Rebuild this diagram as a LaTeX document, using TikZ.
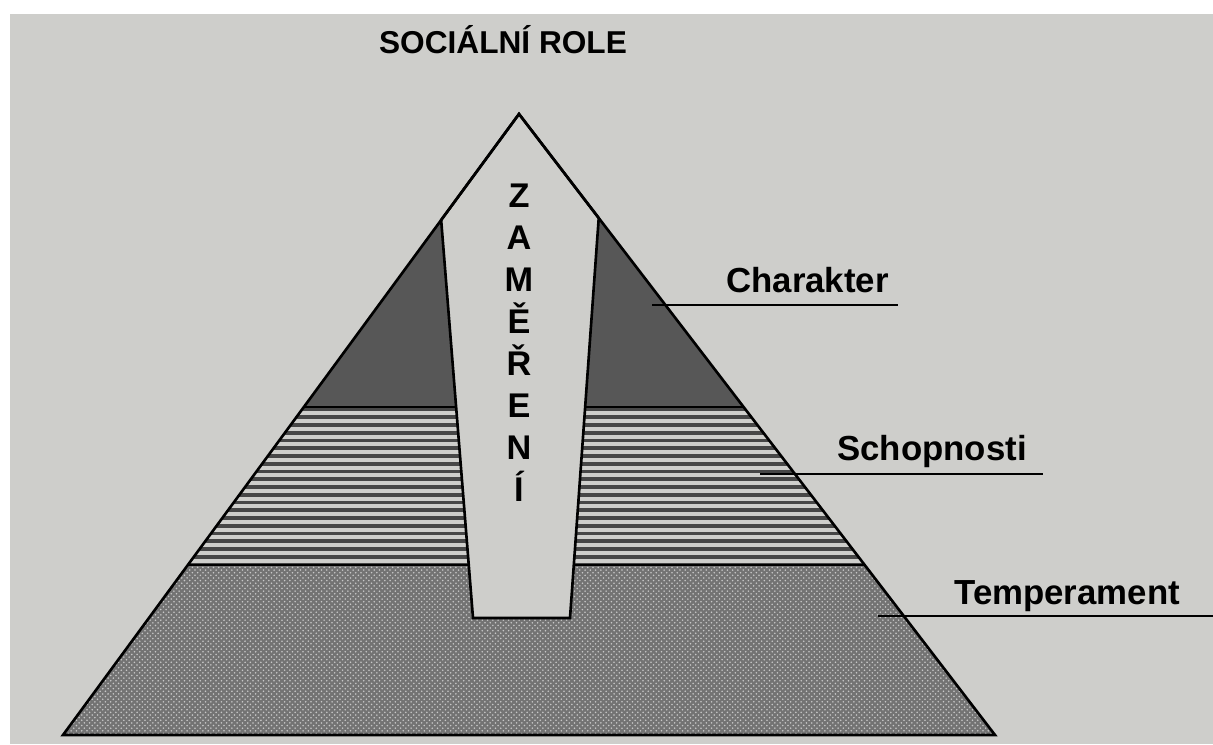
\documentclass[tikz,border=0pt]{standalone}
\usepackage{fontspec}
\setmainfont{Liberation Sans}
\usetikzlibrary{positioning}
\usetikzlibrary{calc}
\usetikzlibrary{patterns}
\definecolor{paper}{RGB}{206,206,203}
\tikzset{lbl/.style={anchor=base west, inner sep=0pt, font=\bfseries\fontsize{19.8}{22}\selectfont}}
\tikzset{ltr/.style={anchor=base, inner sep=0pt, font=\bfseries\fontsize{19.5}{22}\selectfont}}
\tikzset{ttl/.style={anchor=base, inner sep=0pt, font=\bfseries\fontsize{18}{20}\selectfont}}
\tikzset{edge/.style={line width=1.5pt, line join=miter}}
\tikzset{lead/.style={line width=1.1pt}}
\tikzset{hatch/.style={line width=2.1pt, black!72}}

\begin{document}
\begin{tikzpicture}[x=0.02cm, y=-0.02cm]
\useasboundingbox (0,0) rectangle (1213,744);
\fill[paper] (10,14) rectangle (1213,744);

%%% The pyramid
\coordinate (apex) at (519,114);
\coordinate (bl) at (63,735);
\coordinate (br) at (995,735);

\coordinate (l1) at ($(apex)!0.4718!(bl)$);
\coordinate (r1) at ($(apex)!0.4718!(br)$);
\coordinate (l2) at ($(apex)!0.7263!(bl)$);
\coordinate (r2) at ($(apex)!0.7263!(br)$);

% top layer
\fill[black!66] (apex) -- (r1) -- (l1) -- cycle;

% middle layer
\begin{scope}
\clip (l1) -- (r1) -- (r2) -- (l2) -- cycle;
\foreach \y in {409.5,417.25,...,566}
  \draw[hatch] (100,\y) -- (1000,\y);
\end{scope}

% bottom layer
\fill[black!55] (l2) -- (r2) -- (br) -- (bl) -- cycle;
\fill[pattern=crosshatch dots, pattern color=black!22] (l2) -- (r2) -- (br) -- (bl) -- cycle;

\draw[line width=0.8pt] (l1) -- (r1);
\draw[line width=1pt] (l2) -- (r2);

%%% The stripe
\coordinate (st1) at ($(apex)!0.1707!(bl)$);
\coordinate (st2) at ($(apex)!0.1675!(br)$);
\coordinate (sb1) at (473,618);
\coordinate (sb2) at (570,618);

\filldraw[edge, fill=paper] (apex) -- (st2) -- (sb2) -- (sb1) -- (st1) -- cycle;
\draw[edge] (apex) -- (br) -- (bl) -- cycle;

\foreach \c [count=\i from 0] in {Z,A,M,Ě,Ř,E,N,Í}
  \node[ltr] (z\i) at (519,{207+42*\i}) {\c};

\node[ttl] (title) at (503,53) {SOCIÁLNÍ ROLE};

%%% The labels
\node[lbl] (chr) at (726,292) {Charakter};
\coordinate (ch1) at (652,305);
\coordinate (ch2) at (898,305);
\draw[lead] (ch1) -- (ch2);

\node[lbl] (sch) at (837,460) {Schopnosti};
\coordinate (sc1) at (760,474);
\coordinate (sc2) at (1043,474);
\draw[lead] (sc1) -- (sc2);

\node[lbl] (tmp) at (954,604) {Temperament};
\coordinate (tm1) at (878,616);
\coordinate (tm2) at (1213,616);
\draw[lead] (tm1) -- (tm2);

\end{tikzpicture}
\end{document}
